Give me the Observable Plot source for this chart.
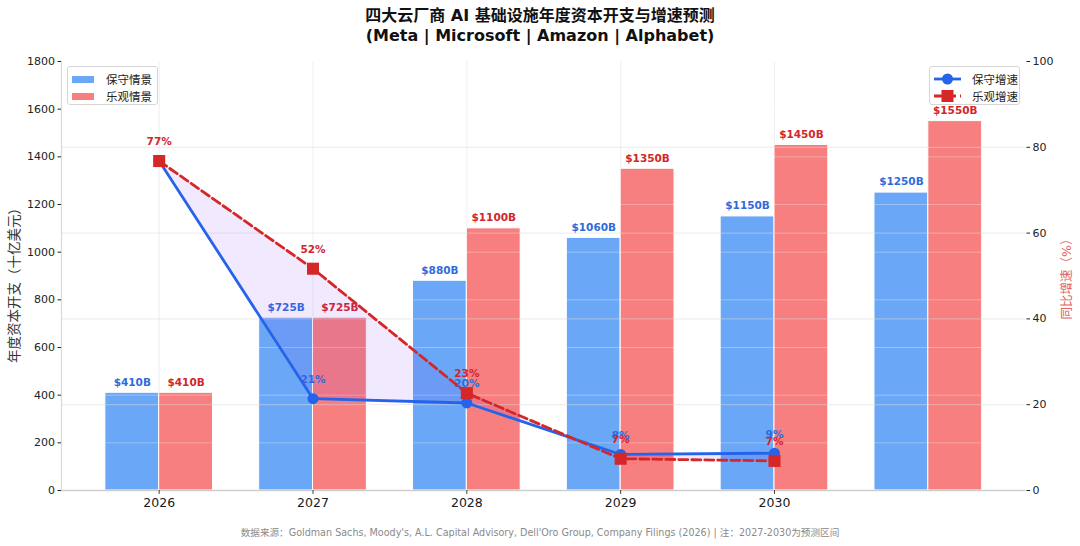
<!DOCTYPE html>
<html>
<head>
<meta charset="utf-8">
<script src="https://cdn.jsdelivr.net/npm/d3@7"></script>
<script src="https://cdn.jsdelivr.net/npm/@observablehq/plot@0.6"></script>
<style>
  html, body { margin: 0; padding: 0; background: #fff; }
  #wrap { position: relative; width: 1080px; height: 546px; overflow: hidden;
          font-family: "DejaVu Sans", "Noto Sans CJK SC", sans-serif; }
  #title { height: 48px; box-sizing: border-box; padding-top: 5.5px; text-align: center;
           font-weight: bold; font-size: 16px; line-height: 20px; color: #111; }
  #footer { position: absolute; left: 0; top: 523px; width: 1080px; text-align: center;
            font-size: 9.6px; line-height: 20px; color: #8a8a8a; }
  .legend { position: absolute; background: rgba(255,255,255,0.85); border: 1px solid #d6d6d6;
            border-radius: 3px; font-size: 11.5px; color: #222; box-sizing: border-box; }
  .row { position: absolute; left: 0; height: 18px; display: flex; align-items: center; white-space: nowrap; }
  .patch { display: inline-block; width: 22px; height: 7px; margin-left: 4px; margin-right: 12px; }
</style>
</head>
<body>
<div id="wrap">
  <div id="title">四大云厂商 AI 基础设施年度资本开支与增速预测<br>(Meta | Microsoft | Amazon | Alphabet)</div>
  <div id="chart"></div>
  <div id="legL" class="legend" style="left:67px;top:66px;width:91px;height:39px;">
    <div class="row" style="top:3px;"><span class="patch" style="background:#6aa8f7"></span>保守情景</div>
    <div class="row" style="top:20px;"><span class="patch" style="background:#f77f7f"></span>乐观情景</div>
  </div>
  <div id="legR" class="legend" style="left:929px;top:66px;width:91px;height:39px;">
    <div class="row" style="top:3px;"><svg width="36" height="14" style="margin-left:2px;margin-right:4px"><line x1="2" y1="7" x2="29" y2="7" stroke="#2563eb" stroke-width="2.8"/><circle cx="15.5" cy="7" r="5.5" fill="#2563eb"/></svg>保守增速</div>
    <div class="row" style="top:20px;"><svg width="36" height="14" style="margin-left:2px;margin-right:4px"><line x1="2" y1="7" x2="29" y2="7" stroke="#d62728" stroke-width="2.8" stroke-dasharray="9,4"/><rect x="9.5" y="1" width="12" height="12" fill="#d62728"/></svg>乐观增速</div>
  </div>
  <div id="footer">数据来源：Goldman Sachs, Moody's, A.L. Capital Advisory, Dell'Oro Group, Company Filings (2026) | 注：2027-2030为预测区间</div>
</div>
<script>
// ---- data ----
const groups = [0, 1, 2, 3, 4, 5];
const tickLabels = ["2026", "2027", "2028", "2029", "2030"];
const consCapex = [410, 725, 880, 1060, 1150, 1250];
const optCapex = [410, 725, 1100, 1350, 1450, 1550];
const growthIdx = [0, 1, 2, 3, 4];
const consGrowth = [76.8, 21.4, 20.4, 8.4, 8.7];
const optGrowth = [76.8, 51.7, 22.7, 7.4, 6.9];
const leftTicks = [0, 200, 400, 600, 800, 1000, 1200, 1400, 1600, 1800];
const rightTicks = [0, 20, 40, 60, 80, 100];

// ---- derived tables ----
const PCT = 18; // 100% on right axis == 1800 on left axis
const cons = groups.map((i, k) => ({i, v: consCapex[k]}));
const opt = groups.map((i, k) => ({i, v: optCapex[k]}));
const gc = growthIdx.map((i, k) => ({i, g: consGrowth[k]}));
const go = growthIdx.map((i, k) => ({i, g: optGrowth[k]}));
const band = growthIdx.map((i, k) => ({i, a: consGrowth[k], b: optGrowth[k]}));
const W = 0.35;

const BLUE_BAR = "#6aa8f7", RED_BAR = "#f77f7f";
const BLUE = "#2563eb", RED = "#d62728";
const BLUE_TXT = "#2f6bdc", RED_TXT = "#d2262b";

const chart = Plot.plot({
  width: 1080,
  height: 475,
  marginTop: 13,
  marginBottom: 33,
  marginLeft: 61,
  marginRight: 54.5,
  style: {fontFamily: '"DejaVu Sans","Noto Sans CJK SC",sans-serif', fontSize: "11px", color: "#222", background: "#fff"},
  x: {type: "linear", domain: [-0.635, 5.635]},
  y: {domain: [0, 1800]},
  marks: [
    Plot.gridX([0, 1, 2, 3, 4], {x: d => d, stroke: "#e4e4e4", strokeOpacity: 0.6}),
    Plot.rectY(cons, {x1: d => d.i - W, x2: d => d.i, y: "v", fill: BLUE_BAR, stroke: "#fff", strokeWidth: 1}),
    Plot.rectY(opt, {x1: d => d.i, x2: d => d.i + W, y: "v", fill: RED_BAR, stroke: "#fff", strokeWidth: 1}),
    Plot.gridY(leftTicks, {y: d => d, stroke: "#fff", strokeOpacity: 0.3}),
    Plot.gridY(rightTicks.slice(1, -1), {y: d => d * PCT, stroke: "#d8d8d8", strokeOpacity: 0.55}),
    Plot.ruleY([0], {stroke: "#cfcfcf", strokeWidth: 1.5}),
    Plot.ruleX([-0.635], {stroke: "#d9d9d9", strokeWidth: 1.2}),
    Plot.axisX({ticks: [0, 1, 2, 3, 4], tickFormat: i => tickLabels[i], tickSize: 4, tickPadding: 4, fontSize: 12.5, label: null, stroke: "#444", fill: "#1a1a1a"}),
    Plot.axisY({ticks: leftTicks, tickFormat: d => String(d), tickSize: 3.5, tickPadding: 3, fontSize: 11, label: null, fill: "#222"}),
    Plot.axisY({anchor: "right", ticks: rightTicks.map(d => d * PCT), tickFormat: d => String(d / PCT), tickSize: 3.5, tickPadding: 3, fontSize: 11, label: null, fill: "#222"}),
    Plot.text(["年度资本开支（十亿美元）"], {frameAnchor: "left", dx: -47, dy: 6, rotate: -90, textAnchor: "middle", lineAnchor: "middle", fontSize: 13.5, fill: "#333"}),
    Plot.text(["同比增速（%）"], {frameAnchor: "right", dx: 41, rotate: -90, textAnchor: "middle", lineAnchor: "middle", fontSize: 12.5, fill: "#e06262"}),
    Plot.text(cons, {x: d => d.i - W / 2, y: "v", text: d => `$${d.v}B`, dy: -10.5, fill: BLUE_TXT, fontWeight: "bold", fontSize: 10.5}),
    Plot.text(opt, {x: d => d.i + W / 2, y: "v", text: d => `$${d.v}B`, dy: -10.5, fill: RED_TXT, fontWeight: "bold", fontSize: 10.5}),
    Plot.text(gc.slice(1), {x: "i", y: d => d.g * PCT, text: d => `${Math.round(d.g)}%`, dy: -19, fill: BLUE_TXT, fontWeight: "bold", fontSize: 10.5}),
    Plot.text(go, {x: "i", y: d => d.g * PCT, text: d => `${Math.round(d.g)}%`, dy: -19, fill: RED_TXT, fontWeight: "bold", fontSize: 10.5}),
    Plot.areaY(band, {x: "i", y1: d => d.a * PCT, y2: d => d.b * PCT, fill: "#7c3aed", fillOpacity: 0.11}),
    Plot.line(gc, {x: "i", y: d => d.g * PCT, stroke: BLUE, strokeWidth: 2.8}),
    Plot.dot(gc, {x: "i", y: d => d.g * PCT, r: 5.5, fill: BLUE, symbol: "circle"}),
    Plot.line(go, {x: "i", y: d => d.g * PCT, stroke: RED, strokeWidth: 2.8, strokeDasharray: "9,4"}),
    Plot.dot(go, {x: "i", y: d => d.g * PCT, r: 6.8, fill: RED, symbol: "square"})
  ]
});
document.getElementById("chart").appendChild(chart);
</script>
</body>
</html>
